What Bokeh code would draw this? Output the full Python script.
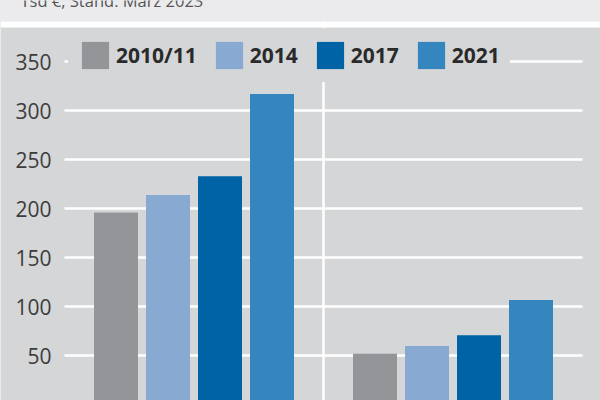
from bokeh.plotting import figure
from bokeh.models import (ColumnDataSource, Range1d, Legend, LegendItem,
                          Span, FixedTicker, BoxAnnotation, Label, LinearAxis)
from bokeh.embed import file_html
from bokeh.resources import INLINE

# ---- data ----
groups = ["Gruppe 1", "Gruppe 2"]
years = ["2010/11", "2014", "2017", "2021"]
v2010 = [196, 52]
v2014 = [214, 60]
v2017 = [233, 71]
v2021 = [317, 107]
y_ticks = [50, 100, 150, 200, 250, 300, 350]
header_text = "Tsd €, Stand: März 2023"

# ---- style ----
FONT = "Open Sans"
PANEL = "#d5d6d8"
HEADER = "#ebebed"
colors = ["#939598", "#88aad2", "#0063a5", "#3585be"]

# group centres on a numeric axis: group i occupies [i, i+1]
gx = [i + 0.5 for i in range(len(groups))]
series = [v2010, v2014, v2017, v2021]
bar_w = 44 / 259
offsets = [-78 / 259, -26 / 259, 26 / 259, 78 / 259]

data = dict(group=groups)
for k, (vals, off) in enumerate(zip(series, offsets)):
    data[f"x{k}"] = [g + off for g in gx]
    data[f"v{k}"] = vals
source = ColumnDataSource(data)

p = figure(width=600, height=400,
           x_range=Range1d(-64 / 259, len(groups) + 18 / 259),
           y_range=Range1d(4.43, 412.2),
           output_backend="svg", toolbar_location=None,
           x_axis_location=None, y_axis_location=None,
           min_border_left=0, min_border_right=0, min_border_top=0, min_border_bottom=0)
p.background_fill_color = PANEL
p.border_fill_color = PANEL
p.outline_line_color = None
p.xgrid.visible = False

# y axis drawn inside the frame at the left edge of the group area
yax = LinearAxis(fixed_location=0, ticker=FixedTicker(ticks=y_ticks))
yax.axis_line_color = None
yax.major_tick_line_color = None
yax.minor_tick_line_color = None
yax.major_tick_out = 0
yax.major_tick_in = 0
yax.major_label_standoff = 13
yax.major_label_text_font = FONT
yax.major_label_text_font_size = "21px"
yax.major_label_text_color = "#3c3c3c"
p.add_layout(yax, "left")

p.ygrid.ticker = FixedTicker(ticks=y_ticks)
p.ygrid.grid_line_color = "white"
p.ygrid.grid_line_width = 2.5
p.ygrid.cross_bounds = (0, len(groups))

p.add_layout(Span(location=1, dimension="height", line_color="white", line_width=2.5,
                  level="underlay"))

renderers = []
for k, col in enumerate(colors):
    r = p.vbar(x=f"x{k}", top=f"v{k}", bottom=0, width=bar_w,
               source=source, fill_color=col, line_color=None)
    renderers.append(r)

# header strip (canvas units)
p.add_layout(BoxAnnotation(left=0, right=600, top=0, bottom=21,
                           left_units="canvas", right_units="canvas",
                           top_units="canvas", bottom_units="canvas",
                           fill_color=HEADER, fill_alpha=1.0, line_color=None, level="overlay"))
p.add_layout(BoxAnnotation(left=0, right=600, top=21, bottom=27,
                           left_units="canvas", right_units="canvas",
                           top_units="canvas", bottom_units="canvas",
                           fill_color="white", fill_alpha=1.0, line_color=None, level="overlay"))
p.add_layout(Label(x=20, y=0, x_units="canvas", y_units="canvas", text=header_text,
                   text_font=FONT, text_font_size="16.5px", text_color="#555555",
                   text_baseline="alphabetic", text_align="left", level="overlay"))

legend = Legend(items=[LegendItem(label=y, renderers=[r]) for y, r in zip(years, renderers)],
                orientation="horizontal", location=(68, 318), margin=0, padding=10,
                spacing=15, label_standoff=4, glyph_width=34, glyph_height=34,
                background_fill_color=PANEL, background_fill_alpha=1.0,
                border_line_color=PANEL, border_line_alpha=0.0,
                label_text_font=FONT, label_text_font_size="21px",
                label_text_font_style="bold", label_text_color="#2a2a2a")
p.add_layout(legend, "center")

open("out.html", "w").write(file_html(p, INLINE))
